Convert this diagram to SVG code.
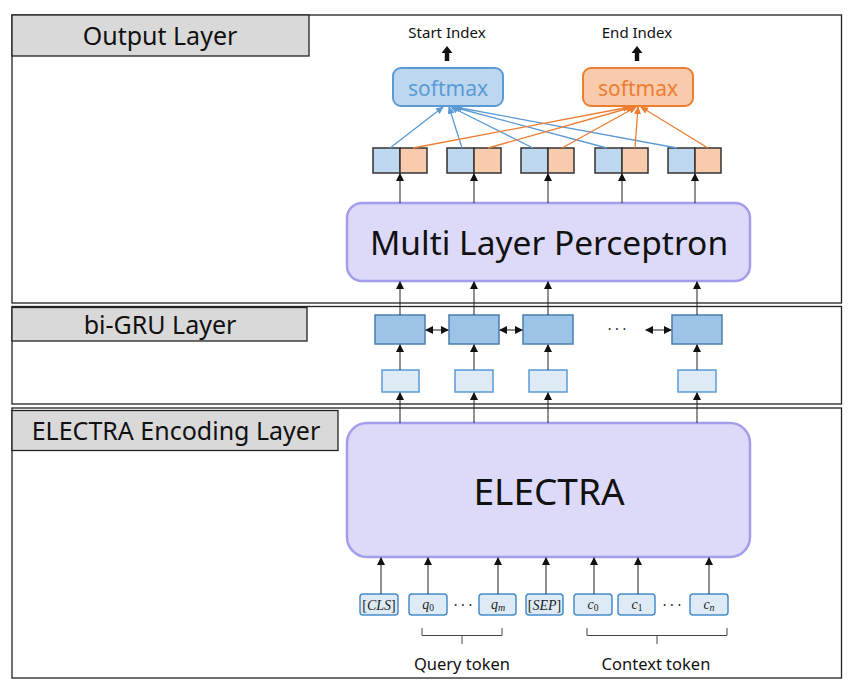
<svg xmlns="http://www.w3.org/2000/svg" width="853" height="688" viewBox="0 0 853 688">
<style>
.frame{fill:#fff;stroke:#222;stroke-width:1.3}
.lab{fill:#d9d9d9;stroke:#222;stroke-width:1.3}
.labt{font-family:"Noto Sans","Open Sans",sans-serif;font-size:25px;fill:#111;text-anchor:middle}
.big{fill:#dcdaf8;stroke:#a29ded;stroke-width:2.5}
.bigt{font-family:"Noto Sans","Open Sans",sans-serif;fill:#111;text-anchor:middle}
.smb{fill:#bdd7ee;stroke:#5b9bd5;stroke-width:2}
.smo{fill:#f8cbad;stroke:#ed7d31;stroke-width:2}
.hb{fill:#bdd7ee;stroke:#333;stroke-width:1.5}
.ho{fill:#f8cbad;stroke:#333;stroke-width:1.5}
.gru{fill:#9dc3e6;stroke:#4a7eb0;stroke-width:1.5}
.emb{fill:#deebf7;stroke:#5b9bd5;stroke-width:1.5}
.tok{fill:#deebf7;stroke:#4a8ccc;stroke-width:1.5}
.tokt{font-family:"Liberation Serif","DejaVu Serif",serif;font-size:14px;fill:#222;text-anchor:middle}
.it{font-style:italic}
.ar{stroke:#222;stroke-width:1;fill:none;marker-end:url(#ah)}
.bl{stroke:#5b9bd5;stroke-width:1.3;fill:none;marker-end:url(#ahb)}
.or{stroke:#ed7d31;stroke-width:1.3;fill:none;marker-end:url(#aho)}
.smt{font-family:"Noto Sans","Open Sans",sans-serif;font-size:15px;fill:#111;text-anchor:middle}
.tt{font-family:"Noto Sans","Open Sans",sans-serif;font-size:16.5px;fill:#111;text-anchor:middle}
.dots{font-family:"Noto Sans",sans-serif;font-size:14px;fill:#222;text-anchor:middle}
.brace{stroke:#444;stroke-width:1;fill:none}
</style>
<defs>
<marker id="ah" markerUnits="userSpaceOnUse" markerWidth="8" markerHeight="9" refX="7" refY="4" orient="auto">
<path d="M0,0 L8,4 L0,8 Z" fill="#111"/>
</marker>
<marker id="ahs" markerUnits="userSpaceOnUse" markerWidth="8" markerHeight="9" refX="1" refY="4" orient="auto">
<path d="M8,0 L0,4 L8,8 Z" fill="#111"/>
</marker>
<marker id="ahb" markerUnits="userSpaceOnUse" markerWidth="8" markerHeight="8" refX="7" refY="3.5" orient="auto">
<path d="M0,0 L8,3.5 L0,7 Z" fill="#5b9bd5"/>
</marker>
<marker id="aho" markerUnits="userSpaceOnUse" markerWidth="8" markerHeight="8" refX="7" refY="3.5" orient="auto">
<path d="M0,0 L8,3.5 L0,7 Z" fill="#ed7d31"/>
</marker>
</defs>

<g id="output-layer">
<rect class="frame" x="12" y="15" width="829.5" height="288"/>
<rect class="lab" x="12" y="15" width="297" height="41"/>
<text class="labt" x="160" y="45">Output Layer</text>
</g>
<g id="bigru-layer">
<rect class="frame" x="12" y="306.5" width="829.5" height="97.5"/>
<rect class="lab" x="12" y="307.5" width="295" height="33.5"/>
<text class="labt" x="160" y="334">bi-GRU Layer</text>
</g>
<g id="electra-layer">
<rect class="frame" x="12" y="408" width="829.5" height="270"/>
<rect class="lab" x="12" y="410.5" width="326" height="40"/>
<text class="labt" x="176" y="440">ELECTRA Encoding Layer</text>
</g>

<g id="start-index">
<text class="smt" x="447" y="38">Start Index</text>
<polygon points="447,46 452.5,53 449.2,53 449.2,61 444.8,61 444.8,53 441.5,53" fill="#111"/>
</g>
<g id="end-index">
<text class="smt" x="637" y="38">End Index</text>
<polygon points="637,46 642.5,53 639.2,53 639.2,61 634.8,61 634.8,53 631.5,53" fill="#111"/>
</g>

<g id="softmax-start">
<rect class="smb" x="393" y="68" width="110" height="38" rx="8"/>
<text x="448" y="96" font-family="Noto Sans,Open Sans,sans-serif" font-size="21" fill="#5b9bd5" text-anchor="middle">softmax</text>
</g>
<g id="softmax-end">
<rect class="smo" x="583" y="68" width="110" height="38" rx="8"/>
<text x="638" y="96" font-family="Noto Sans,Open Sans,sans-serif" font-size="21" fill="#ed7d31" text-anchor="middle">softmax</text>
</g>

<g id="pair-1"><rect class="hb" x="373" y="148" width="27" height="25"/><rect class="ho" x="400" y="148" width="27" height="25"/></g>
<g id="pair-2"><rect class="hb" x="447" y="148" width="27" height="25"/><rect class="ho" x="474" y="148" width="27" height="25"/></g>
<g id="pair-3"><rect class="hb" x="521" y="148" width="27" height="25"/><rect class="ho" x="548" y="148" width="26" height="25"/></g>
<g id="pair-4"><rect class="hb" x="595" y="148" width="27" height="25"/><rect class="ho" x="622" y="148" width="26" height="25"/></g>
<g id="pair-5"><rect class="hb" x="668" y="148" width="27" height="25"/><rect class="ho" x="695" y="148" width="26" height="25"/></g>

<g id="mlp">
<rect class="big" x="347" y="203" width="403" height="78" rx="15"/>
<text class="bigt" x="549" y="255" font-size="33.5">Multi Layer Perceptron</text>
</g>

<g id="gru-1"><rect class="gru" x="375" y="315" width="50" height="29"/></g>
<g id="gru-2"><rect class="gru" x="449" y="315" width="50" height="29"/></g>
<g id="gru-3"><rect class="gru" x="523" y="315" width="50" height="29"/></g>
<g id="gru-4"><rect class="gru" x="672" y="315" width="50" height="29"/></g>
<text class="dots" x="617" y="334">· · ·</text>

<g id="emb-1"><rect class="emb" x="382" y="370" width="37" height="22"/></g>
<g id="emb-2"><rect class="emb" x="455" y="370" width="38" height="22"/></g>
<g id="emb-3"><rect class="emb" x="529" y="370" width="38" height="22"/></g>
<g id="emb-4"><rect class="emb" x="678" y="370" width="38" height="22"/></g>

<g id="electra">
<rect class="big" x="347" y="423" width="403" height="134" rx="20"/>
<text class="bigt" x="549" y="505" font-size="37">ELECTRA</text>
</g>

<g id="tok-cls"><rect class="tok" x="360" y="594" width="38" height="21" rx="3"/><text class="tokt" x="379" y="609.5">[<tspan class="it">CLS</tspan>]</text></g>
<g id="tok-q0"><rect class="tok" x="409" y="594" width="38" height="21" rx="3"/><text class="tokt" x="428" y="609"><tspan class="it">q</tspan><tspan font-size="9.5" dy="2">0</tspan></text></g>
<g id="tok-qm"><rect class="tok" x="479" y="594" width="37" height="21" rx="3"/><text class="tokt" x="498" y="609"><tspan class="it">q</tspan><tspan class="it" font-size="10" dy="2">m</tspan></text></g>
<g id="tok-sep"><rect class="tok" x="526" y="594" width="37" height="21" rx="3"/><text class="tokt" x="544.5" y="609.5">[<tspan class="it">SEP</tspan>]</text></g>
<g id="tok-c0"><rect class="tok" x="574" y="594" width="38" height="21" rx="3"/><text class="tokt" x="593" y="609"><tspan class="it">c</tspan><tspan font-size="9.5" dy="2">0</tspan></text></g>
<g id="tok-c1"><rect class="tok" x="618" y="594" width="37" height="21" rx="3"/><text class="tokt" x="637" y="609"><tspan class="it">c</tspan><tspan font-size="9.5" dy="2">1</tspan></text></g>
<g id="tok-cn"><rect class="tok" x="690" y="594" width="38" height="21" rx="3"/><text class="tokt" x="709" y="609"><tspan class="it">c</tspan><tspan class="it" font-size="10" dy="2">n</tspan></text></g>
<text class="dots" x="463" y="610">· · ·</text>
<text class="dots" x="672" y="610">· · ·</text>

<g id="query-brace">
<path class="brace" d="M422,628 L422,635.5 L502,635.5 L502,628 M462,635.5 L462,644"/>
<text class="tt" x="462" y="670">Query token</text>
</g>
<g id="context-brace">
<path class="brace" d="M587,628 L587,635.5 L727,635.5 L727,628 M657,635.5 L657,644"/>
<text class="tt" x="656" y="670">Context token</text>
</g>

<g id="connectors">
<path class="bl" d="M390,148 L443,107"/>
<path class="bl" d="M462,148 L449,107"/>
<path class="bl" d="M533,148 L451,107"/>
<path class="bl" d="M607,148 L453,107"/>
<path class="bl" d="M677,148 L455,107"/>
<path class="or" d="M413,148 L630,107"/>
<path class="or" d="M488,148 L633,107"/>
<path class="or" d="M562,148 L636,107"/>
<path class="or" d="M635,148 L638,107"/>
<path class="or" d="M708,148 L641,107"/>

<path class="ar" d="M400,203 L400,174"/>
<path class="ar" d="M474,203 L474,174"/>
<path class="ar" d="M548,203 L548,174"/>
<path class="ar" d="M622,203 L622,174"/>
<path class="ar" d="M695,203 L695,174"/>

<path class="ar" d="M400,315 L400,282"/>
<path class="ar" d="M474,315 L474,282"/>
<path class="ar" d="M548,315 L548,282"/>
<path class="ar" d="M697,315 L697,282"/>

<path class="ar" d="M426,330 L448,330" marker-start="url(#ahs)"/>
<path class="ar" d="M500,330 L522,330" marker-start="url(#ahs)"/>
<path class="ar" d="M646,330 L671,330" marker-start="url(#ahs)"/>

<path class="ar" d="M400,370 L400,345"/>
<path class="ar" d="M474,370 L474,345"/>
<path class="ar" d="M548,370 L548,345"/>
<path class="ar" d="M697,370 L697,345"/>

<path class="ar" d="M400,423 L400,393"/>
<path class="ar" d="M474,423 L474,393"/>
<path class="ar" d="M548,423 L548,393"/>
<path class="ar" d="M697,423 L697,393"/>

<path class="ar" d="M381,594 L381,558"/>
<path class="ar" d="M428,594 L428,558"/>
<path class="ar" d="M498,594 L498,558"/>
<path class="ar" d="M546,594 L546,558"/>
<path class="ar" d="M594,594 L594,558"/>
<path class="ar" d="M638,594 L638,558"/>
<path class="ar" d="M709,594 L709,558"/>
</g>
</svg>
